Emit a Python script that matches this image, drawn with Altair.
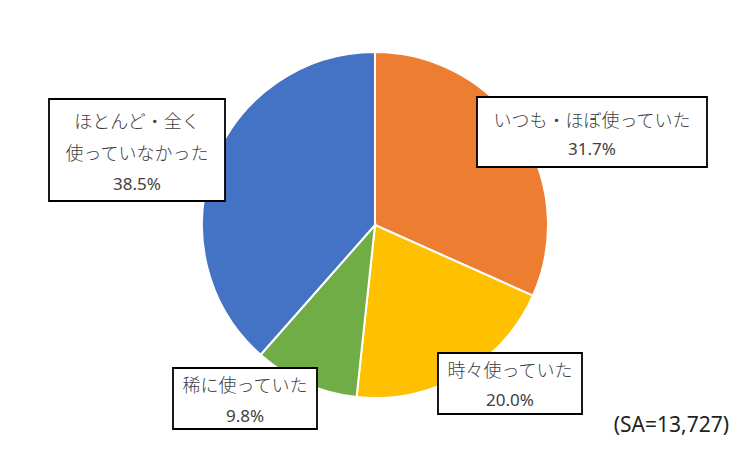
import altair as alt
import pandas as pd

# ---- data ----
categories = ["いつも・ほぼ使っていた", "時々使っていた", "稀に使っていた", "ほとんど・全く使っていなかった"]
values = [31.7, 20.0, 9.8, 38.5]
pct_labels = ["31.7%", "20.0%", "9.8%", "38.5%"]
label_lines = [["いつも・ほぼ使っていた"], ["時々使っていた"], ["稀に使っていた"], ["ほとんど・全く", "使っていなかった"]]
colors = ["#ED7D31", "#FFC000", "#70AD47", "#4472C4"]
note = "(SA=13,727)"

# ---- layout (pixel positions inside the chart, page minus 8px margin) ----
W, H = 734, 435
M = 8
cx, cy, R = 375 - M, 225 - M, 173
boxes = [  # x1, y1, x2, y2 in page coords
    (477, 97, 707, 167),
    (438, 353, 582, 414),
    (173, 368, 317, 429),
    (49, 99, 225, 201),
]
line_y = [[122, 150], [372, 401], [387, 417], [123, 155, 185]]

pie_df = pd.DataFrame({"cat": categories, "value": values, "order": list(range(len(values)))})

box_rows, jp_rows, pct_rows = [], [], []
for i, (x1, y1, x2, y2) in enumerate(boxes):
    box_rows.append({"x1": x1 - M, "y1": y1 - M, "x2": x2 - M, "y2": y2 - M})
    xc = (x1 + x2) / 2 - M
    ys = line_y[i]
    for j, t in enumerate(label_lines[i]):
        jp_rows.append({"x": xc, "y": ys[j] - M, "t": t})
    pct_rows.append({"x": xc, "y": ys[-1] - M, "t": pct_labels[i]})

box_df = pd.DataFrame(box_rows)
jp_df = pd.DataFrame(jp_rows)
pct_df = pd.DataFrame(pct_rows)
note_df = pd.DataFrame({"x": [729 - M], "y": [426 - M], "t": [note]})

xs = alt.Scale(domain=[0, W], range=[0, W], nice=False, zero=False)
ys_ = alt.Scale(domain=[0, H], range=[0, H], nice=False, zero=False)

pie = alt.Chart(pie_df).mark_arc(outerRadius=R, stroke="white", strokeWidth=2).encode(
    theta=alt.Theta("value:Q", stack=True),
    order=alt.Order("order:Q"),
    color=alt.Color("cat:N", scale=alt.Scale(domain=categories, range=colors), legend=None),
    x=alt.value(cx),
    y=alt.value(cy),
)

rects = alt.Chart(box_df).mark_rect(fill="white", stroke="black", strokeWidth=1.8).encode(
    x=alt.X("x1:Q", scale=xs, axis=None),
    x2="x2:Q",
    y=alt.Y("y1:Q", scale=ys_, axis=None),
    y2="y2:Q",
)

jp_text = alt.Chart(jp_df).mark_text(
    font="Noto Sans CJK JP", fontSize=18, fontWeight=300, color="#404040", align="center", baseline="middle"
).encode(
    x=alt.X("x:Q", scale=xs, axis=None),
    y=alt.Y("y:Q", scale=ys_, axis=None),
    text="t:N",
)

pct_text = alt.Chart(pct_df).mark_text(
    font="Noto Sans", fontSize=17, color="#404040", align="center", baseline="middle"
).encode(
    x=alt.X("x:Q", scale=xs, axis=None),
    y=alt.Y("y:Q", scale=ys_, axis=None),
    text="t:N",
)

note_text = alt.Chart(note_df).mark_text(
    font="Noto Sans", fontSize=21, color="#222222", align="right", baseline="middle"
).encode(
    x=alt.X("x:Q", scale=xs, axis=None),
    y=alt.Y("y:Q", scale=ys_, axis=None),
    text="t:N",
)

chart = alt.layer(pie, rects, jp_text, pct_text, note_text).properties(
    width=W, height=H, padding=0, background="white"
).configure_view(stroke=None)

chart.save("out.html", embed_options={"renderer": "svg", "actions": False})
